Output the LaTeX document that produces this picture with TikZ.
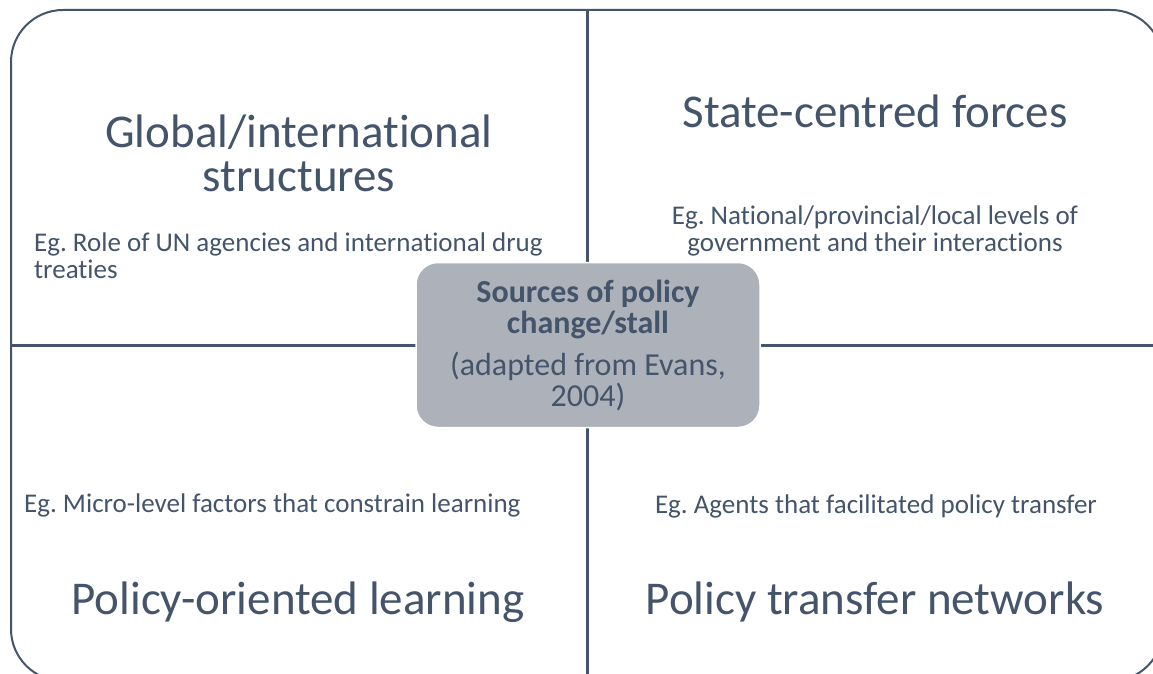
\documentclass[tikz,border=0pt]{standalone}
\usepackage{fontspec}
\setmainfont{Carlito}[Ligatures=NoCommon]
\frenchspacing
\definecolor{framecolor}{RGB}{68,84,106}
\definecolor{hubcolor}{RGB}{173,177,186}

\begin{document}
\begin{tikzpicture}[
    x=1pt, y=-1pt,
    quadtitle/.style={text=framecolor, font=\fontsize{47}{44}\selectfont, align=center, inner sep=0pt, anchor=base},
    example/.style={text=framecolor, font=\fontsize{27}{27}\selectfont, inner sep=0pt, anchor=base},
    hub/.style={rectangle, rounded corners=22pt, draw=white, line width=1.5pt, fill=hubcolor, text=framecolor, minimum width=344pt, minimum height=165pt, align=center, font=\fontsize{32}{31}\selectfont},
    divider/.style={draw=framecolor, line width=3pt}
]
\useasboundingbox (0,0) rectangle (1153,674);

% Outer frame
\draw[framecolor, line width=2pt, rounded corners=52pt] (11,10) rectangle (1163,681);

% Dividers
\coordinate (top) at (587,10);
\coordinate (bottom) at (587,681);
\coordinate (left) at (11,345);
\coordinate (right) at (1163,345);
\draw[divider] (top) -- (bottom);
\draw[divider] (left) -- (right);

% Centre
\node[hub] (centre) at (588,345) {\textbf{Sources of policy}\\\textbf{change/stall}\\[11pt](adapted from Evans,\\2004)};

% Top left
\node[quadtitle] (global) at (299,191) {Global/international\\structures};
\node[example, anchor=base west, align=left] (globaleg) at (34,278) {Eg. Role of UN agencies and international drug\\treaties};

% Top right
\node[quadtitle] (state) at (875,128) {State-centred forces};
\node[example, align=center] (stateeg) at (875,251) {Eg. National/provincial/local levels of\\government and their interactions};

% Bottom left
\node[example, anchor=base west] (learneg) at (24,512) {Eg. Micro-level factors that constrain learning};
\node[quadtitle] (learn) at (298,614) {Policy-oriented learning};

% Bottom right
\node[example] (transfereg) at (876,513) {Eg. Agents that facilitated policy transfer};
\node[quadtitle] (transfer) at (875,614) {Policy transfer networks};

\end{tikzpicture}
\end{document}
